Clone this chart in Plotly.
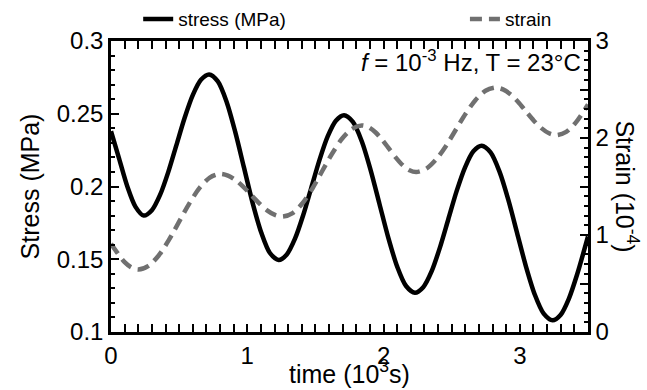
import plotly.graph_objects as go

# ---- data ----
stress_t = [0.0, 0.06, 0.12, 0.18, 0.24,
            0.30, 0.36, 0.42, 0.48, 0.54, 0.60, 0.66, 0.72,
            0.784, 0.848, 0.911, 0.975, 1.039, 1.103, 1.166, 1.23,
            1.29, 1.35, 1.41, 1.47, 1.53, 1.59, 1.65, 1.71,
            1.775, 1.84, 1.905, 1.97, 2.035, 2.10, 2.165, 2.23,
            2.291, 2.353, 2.414, 2.475, 2.536, 2.598, 2.659, 2.72,
            2.785, 2.85, 2.915, 2.98, 3.045, 3.11, 3.175, 3.24,
            3.30, 3.36, 3.42, 3.5]
stress_v = [0.238, 0.219, 0.200, 0.186, 0.180,
            0.1837, 0.1942, 0.2099, 0.2285, 0.2471, 0.2628, 0.2733, 0.277,
            0.2722, 0.2583, 0.2377, 0.2133, 0.1888, 0.1682, 0.1543, 0.1495,
            0.1533, 0.1641, 0.1802, 0.1993, 0.2183, 0.2344, 0.2452, 0.249,
            0.2444, 0.2311, 0.2113, 0.188, 0.1647, 0.1449, 0.1316, 0.127,
            0.1308, 0.1418, 0.1582, 0.1775, 0.1968, 0.2132, 0.2242, 0.228,
            0.2234, 0.2104, 0.191, 0.168, 0.145, 0.1256, 0.1126, 0.108,
            0.1119, 0.123, 0.1395, 0.1657]

strain_t = [0.0, 0.05, 0.10, 0.15, 0.20,
            0.275, 0.35, 0.425, 0.50, 0.575, 0.65, 0.725, 0.80,
            0.858, 0.915, 0.973, 1.03, 1.088, 1.145, 1.203, 1.26,
            1.333, 1.405, 1.478, 1.55, 1.623, 1.695, 1.768, 1.84,
            1.89, 1.94, 1.99, 2.04, 2.09, 2.14, 2.19, 2.24,
            2.313, 2.385, 2.458, 2.53, 2.603, 2.675, 2.748, 2.82,
            2.876, 2.933, 2.989, 3.045, 3.101, 3.158, 3.214, 3.27,
            3.34, 3.41, 3.5]
strain_v = [0.91, 0.81, 0.72, 0.665, 0.645,
            0.6825, 0.789, 0.949, 1.1375, 1.326, 1.486, 1.5925, 1.63,
            1.613, 1.5655, 1.494, 1.41, 1.326, 1.2545, 1.207, 1.19,
            1.226, 1.3277, 1.48, 1.66, 1.84, 1.9923, 2.094, 2.13,
            2.1118, 2.0597, 1.9819, 1.89, 1.798, 1.7203, 1.6682, 1.65,
            1.683, 1.7774, 1.9185, 2.085, 2.2515, 2.3926, 2.487, 2.52,
            2.5014, 2.4482, 2.3688, 2.275, 2.1812, 2.1018, 2.0486, 2.03,
            2.063, 2.159, 2.345]

x_ticks = [0, 0.5, 1, 1.5, 2, 2.5, 3, 3.5]
x_ticktext = ["0", "", "1", "", "2", "", "3", ""]
y2_ticks = [0, 0.5, 1, 1.5, 2, 2.5, 3]
y2_ticktext = ["0", "", "1", "", "2", "", "3"]

FONT = "Liberation Sans, Arial, Helvetica, sans-serif"

fig = go.Figure()
fig.add_trace(go.Scatter(x=stress_t, y=stress_v, mode="lines", name="stress (MPa)",
                         line=dict(color="black", width=4.5, shape="spline", smoothing=0.8),
                         yaxis="y", legend="legend"))
fig.add_trace(go.Scatter(x=strain_t, y=strain_v, mode="lines", name="strain",
                         line=dict(color="#707070", width=4.5, dash="12px,7px",
                                   shape="spline", smoothing=0.8),
                         yaxis="y2", legend="legend2"))

axis_common = dict(showgrid=False, zeroline=False, showline=True, linecolor="black",
                   linewidth=2.5, ticks="inside", tickcolor="black", tickwidth=2,
                   tickfont=dict(size=24, color="black", family=FONT))
minor_common = dict(ticks="inside", ticklen=4, tickcolor="black", tickwidth=2)
legend_common = dict(orientation="h", xanchor="left", yanchor="middle", y=1.075,
                     font=dict(size=19, color="black", family=FONT),
                     bgcolor="rgba(0,0,0,0)", borderwidth=0)

fig.update_layout(
    width=647, height=390,
    margin=dict(l=111, r=59, t=41, b=58, autoexpand=False),
    paper_bgcolor="white", plot_bgcolor="white",
    font=dict(family=FONT, color="black"),
    showlegend=True,
    legend=dict(x=0.057, **legend_common),
    legend2=dict(x=0.742, **legend_common),
    xaxis=dict(range=[0, 3.5], tickmode="array", tickvals=x_ticks, ticktext=x_ticktext,
               ticklen=8, mirror="allticks", minor=dict(dtick=0.1, **minor_common),
               **axis_common),
    yaxis=dict(range=[0.1, 0.3], dtick=0.05, tick0=0.1, ticklen=8,
               minor=dict(dtick=0.01, **minor_common), **axis_common),
    yaxis2=dict(range=[0, 3], overlaying="y", side="right", tickmode="array",
                tickvals=y2_ticks, ticktext=y2_ticktext, ticklen=8,
                minor=dict(dtick=0.1, **minor_common), **axis_common),
)

fig.add_annotation(text="Stress (MPa)", xref="paper", yref="paper", x=-0.17, y=0.5,
                   xanchor="center", textangle=-90, showarrow=False,
                   font=dict(size=25, family=FONT, color="black"))
fig.add_annotation(text="Strain (10<sup>-4</sup>)", xref="paper", yref="paper", x=1.082, y=0.5,
                   xanchor="center", textangle=90, showarrow=False,
                   font=dict(size=25, family=FONT, color="black"))
fig.add_annotation(text="time (10<sup>3</sup>s)", xref="paper", yref="paper", x=0.5, y=-0.2,
                   yanchor="bottom", showarrow=False, font=dict(size=25, family=FONT, color="black"))
fig.add_annotation(text="<i>f</i> = 10<sup>-3</sup> Hz, T = 23°C", xref="paper", yref="paper",
                   x=0.99, y=0.93, xanchor="right", yanchor="middle", showarrow=False,
                   font=dict(size=24, family=FONT, color="black"))

fig.write_html("out.html")
